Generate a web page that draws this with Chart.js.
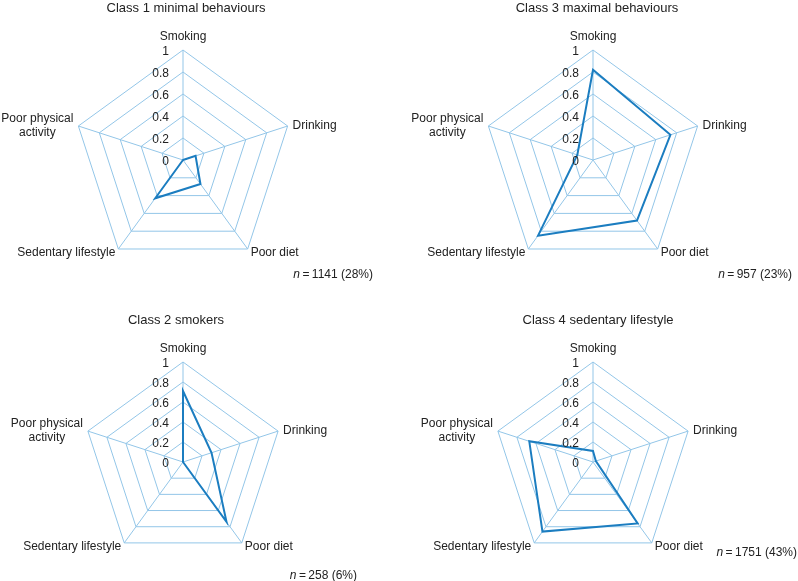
<!DOCTYPE html>
<html>
<head>
<meta charset="utf-8">
<script src="https://cdn.jsdelivr.net/npm/chart.js@4/dist/chart.umd.min.js"></script>
<style>
  body { margin: 0; background: #fff; }
  #wrap { position: relative; width: 798px; height: 581px; overflow: hidden;
          font-family: "Liberation Sans", Arial, sans-serif; color: #222; }
  canvas { position: absolute; }
  .title { position: absolute; font-size: 13px; line-height: 15px; white-space: nowrap; transform: translateX(-50%); }
  .count { position: absolute; font-size: 12px; line-height: 14px; white-space: nowrap; }
</style>
</head>
<body>
<div id="wrap">
  <canvas id="c1" width="399" height="290" style="left:0;top:0"></canvas>
  <canvas id="c3" width="398" height="290" style="left:400px;top:0"></canvas>
  <canvas id="c2" width="399" height="291" style="left:0;top:290px"></canvas>
  <canvas id="c4" width="398" height="291" style="left:400px;top:290px"></canvas>

  <div class="title" style="left:186px;top:0px">Class 1 minimal behaviours</div>
  <div class="title" style="left:597px;top:0px">Class 3 maximal behaviours</div>
  <div class="title" style="left:176px;top:312px">Class 2 smokers</div>
  <div class="title" style="left:598px;top:312px">Class 4 sedentary lifestyle</div>

  <div class="count" style="right:425px;top:267px"><i>n</i>&thinsp;=&thinsp;1141 (28%)</div>
  <div class="count" style="right:6px;top:267px"><i>n</i>&thinsp;=&thinsp;957 (23%)</div>
  <div class="count" style="right:441px;top:568px"><i>n</i>&thinsp;=&thinsp;258 (6%)</div>
  <div class="count" style="right:1px;top:545px"><i>n</i>&thinsp;=&thinsp;1751 (43%)</div>
</div>

<script>
// ---- data ----
const behaviours = ['Smoking', 'Drinking', 'Poor diet', 'Sedentary lifestyle', ['Poor physical', 'activity']];
const tickValues = [0, 0.2, 0.4, 0.6, 0.8, 1];

const class1Minimal = [0.0, 0.12, 0.27, 0.43, 0.0];
const class3Maximal = [0.82, 0.74, 0.68, 0.85, 0.15];
const class2Smokers = [0.71, 0.30, 0.74, 0.0, 0.0];
const class4Sedentary = [0.11, 0.03, 0.76, 0.86, 0.67];

// ---- styles ----
const GRID_COLOR = '#93c6e8';
const LINE_COLOR = '#1b7dc0';
const TEXT_COLOR = '#222';
const FONT = '12px "Liberation Sans", Arial, sans-serif';

// axis labels and tick numbers, placed from the radial scale
const axisTextPlugin = {
    id: 'axisText',
    afterDraw(chart) {
        const scale = chart.scales.r;
        const ctx = chart.ctx;
        const R = scale.drawingArea;
        ctx.save();
        ctx.fillStyle = TEXT_COLOR;
        ctx.font = FONT;

        // tick numbers to the left of the vertical axis
        ctx.textAlign = 'right';
        ctx.textBaseline = 'middle';
        tickValues.forEach(v => {
            const d = scale.getDistanceFromCenterForValue(v);
            ctx.fillText(String(v), scale.xCenter - 14, scale.yCenter - d + 1.5);
        });

        // point labels
        behaviours.forEach((lab, i) => {
            const p = scale.getPointPosition(i, R);
            if (i === 0) {
                ctx.textAlign = 'center';
                ctx.textBaseline = 'alphabetic';
                ctx.fillText(lab, p.x, p.y - 10);
            } else if (i === 1) {
                ctx.textAlign = 'left';
                ctx.textBaseline = 'middle';
                ctx.fillText(lab, p.x + 5, p.y);
            } else if (i === 2) {
                ctx.textAlign = 'left';
                ctx.textBaseline = 'top';
                ctx.fillText(lab, p.x + 3, p.y - 2);
            } else if (i === 3) {
                ctx.textAlign = 'right';
                ctx.textBaseline = 'top';
                ctx.fillText(lab, p.x - 3, p.y - 2);
            } else {
                const lines = Array.isArray(lab) ? lab : [lab];
                const w = Math.max(...lines.map(l => ctx.measureText(l).width));
                const cx = p.x - 5 - w / 2;
                ctx.textAlign = 'center';
                ctx.textBaseline = 'middle';
                lines.forEach((l, k) => {
                    ctx.fillText(l, cx, p.y - 7 + k * 14);
                });
            }
        });
        ctx.restore();
    }
};

function makeRadar(id, values, padding) {
    const ctx = document.getElementById(id);
    return new Chart(ctx, {
        type: 'radar',
        data: {
            labels: behaviours,
            datasets: [{
                data: values,
                borderColor: LINE_COLOR,
                backgroundColor: 'transparent',
                borderWidth: 2,
                fill: false,
                pointRadius: 0,
                tension: 0,
                borderJoinStyle: 'miter'
            }]
        },
        options: {
            responsive: false,
            animation: false,
            devicePixelRatio: 1,
            layout: { padding: padding },
            plugins: {
                legend: { display: false },
                title: { display: false },
                tooltip: { enabled: false }
            },
            scales: {
                r: {
                    min: 0,
                    max: 1,
                    ticks: { display: false, stepSize: 0.2 },
                    pointLabels: { display: false },
                    grid: { color: GRID_COLOR, lineWidth: 1 },
                    angleLines: { color: GRID_COLOR, lineWidth: 1 }
                }
            }
        },
        plugins: [axisTextPlugin]
    });
}

makeRadar('c1', class1Minimal, { left: 73, right: 106, top: 50, bottom: 20 });
makeRadar('c3', class3Maximal, { left: 83, right: 95, top: 50, bottom: 20 });
makeRadar('c2', class2Smokers, { left: 83, right: 116, top: 72, bottom: 19 });
makeRadar('c4', class4Sedentary, { left: 93, right: 105, top: 72, bottom: 19 });
</script>
</body>
</html>
